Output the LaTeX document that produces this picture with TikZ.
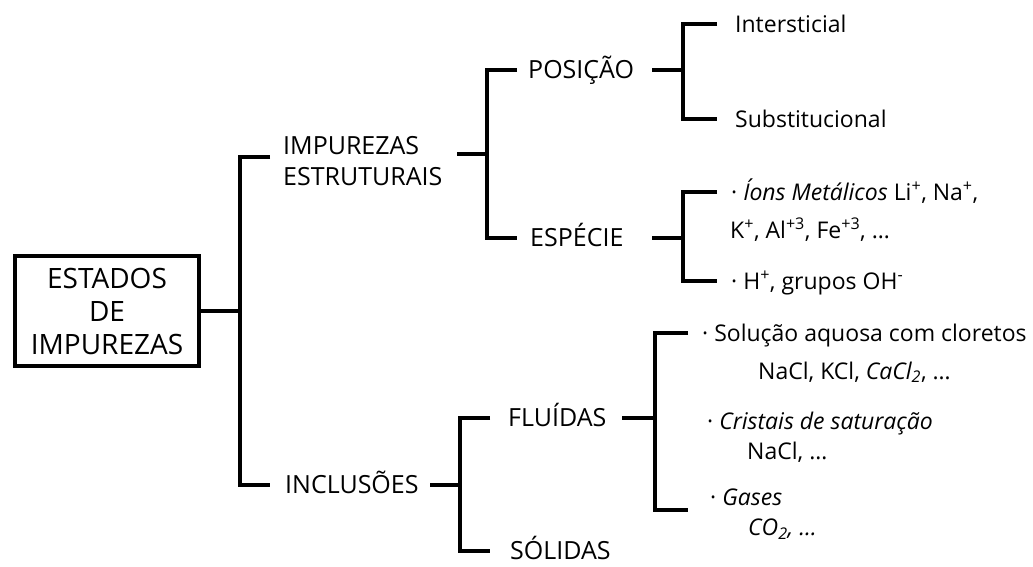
\documentclass[tikz,border=0pt]{standalone}
\usepackage{fontspec}
\setmainfont{Open Sans}
\begin{document}
\begin{tikzpicture}[x=1pt,y=-1pt,
  br/.style={line width=3.5pt},
  big/.style={font=\fontsize{25}{31}\selectfont, inner sep=0pt, anchor=west},
  bigone/.style={big, text height=17.9pt, text depth=0pt, align=left},
  sm/.style={font=\fontsize{23}{30}\selectfont, inner sep=0pt, anchor=west, text height=16.4pt, text depth=0pt},
]
\useasboundingbox (0,0) rectangle (1033,567);
% root
\node[draw, line width=4pt, minimum width=184, minimum height=110, inner sep=0pt, align=center,
      font=\fontsize{28}{33}\selectfont] (root) at (107,311) {ESTADOS\\DE\\IMPUREZAS};
% level 1
\node[big, align=left, text width=174] (imp) at (283,161.5) {IMPUREZAS\\ESTRUTURAIS};
\node[bigone, text width=145] (inc) at (285,485) {INCLUSÕES};
% level 2
\node[bigone, text width=124] (pos) at (528,70) {POSIÇÃO};
\node[bigone, text width=122] (esp) at (530,238) {ESPÉCIE};
\node[bigone, text width=114] (flu) at (508,418) {FLUÍDAS};
\node[bigone] (sol) at (510,551) {SÓLIDAS};
% level 3
\node[sm] (inter) at (735,24) {Intersticial};
\node[sm] (subst) at (735,119) {Substitucional};
\node[sm] (ions1) at (731,192) {· \textit{Íons Metálicos} Li\textsuperscript{+}, Na\textsuperscript{+},};
\node[sm] (ions2) at (730,230) {K\textsuperscript{+}, Al\textsuperscript{+3}, Fe\textsuperscript{+3}, \ldots};
\node[sm] (hgrp) at (731,281) {· H\textsuperscript{+}, grupos OH\textsuperscript{-}};
\node[sm] (solu1) at (702,333) {· Solução aquosa com cloretos};
\node[sm] (solu2) at (758,371) {NaCl, KCl, \textit{CaCl\textsubscript{2}}, \ldots};
\node[sm] (cris1) at (707,421) {· \textit{Cristais de saturação}};
\node[sm] (cris2) at (747,451) {NaCl, \ldots};
\node[font=\fontsize{23}{30}\selectfont, inner sep=0pt, anchor=west, align=left] (gas) at (710,514)
  {· \textit{Gases}\\\hspace*{38pt}\textit{CO\textsubscript{2}, \ldots}};
% junctions
\coordinate (j0) at (240,311);
\coordinate (j1) at (487,154);
\coordinate (jp) at (683,70);
\coordinate (je) at (683,238);
\coordinate (ji) at (460,485);
\coordinate (jf) at (655,418);
% connectors
\draw[br] (root.east) -- (j0);
\draw[br, shorten <=13pt, shorten >=15pt] ([yshift=4.5pt]imp.west) -| (j0) |- (inc.west);
\draw[br] (imp.east |- j1) -- (j1);
\draw[br, shorten <=11pt, shorten >=13pt] (pos.west) -| (j1) |- (esp.west);
\draw[br] (pos.east) -- (jp);
\draw[br, shorten <=18pt, shorten >=18pt] (inter.west) -| (jp) |- (subst.west);
\draw[br] (esp.east) -- (je);
\draw[br, shorten <=14pt, shorten >=14pt] (ions1.west) -| (je) |- (hgrp.west);
\draw[br] (inc.east) -- (ji);
\draw[br, shorten <=18pt, shorten >=20pt] (flu.west) -| (ji) |- (sol.west);
\draw[br] (flu.east) -- (jf);
\draw[br, shorten <=14pt, shorten >=22pt] (solu1.west) -| (jf) |- ([yshift=4pt]gas.west);
\end{tikzpicture}
\end{document}
